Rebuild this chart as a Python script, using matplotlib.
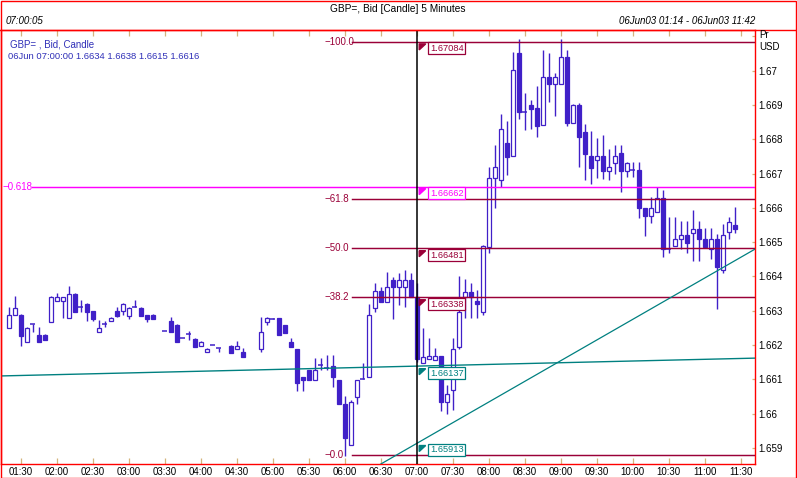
import numpy as np
import matplotlib
matplotlib.use("Agg")
import matplotlib.pyplot as plt
from matplotlib.patches import Rectangle, Polygon
from matplotlib.lines import Line2D

plt.rcParams["font.family"] = ["Liberation Sans", "DejaVu Sans"]

# 5-minute GBP= bid candles, first one at 01:20 (minutes since midnight), NaN = no print
START_MIN = 80
STEP_MIN = 5
nan = np.nan

opens = [
    1.66249, 1.66287, 1.66288, 1.66208, 1.66261, 1.66228, 1.66228, 1.66268, 1.66328, 1.66328,
    1.66278, 1.66349, 1.66310, 1.66320, 1.66298, 1.66237, 1.66262, 1.66269, 1.66298, 1.66298,
    1.66286, 1.66310, 1.66307, 1.66287, 1.66287, nan, 1.66240, 1.66269, 1.66259, 1.66220,
    1.66233, 1.66218, 1.66196, 1.66179, 1.66199, 1.66191, nan, 1.66197, 1.66188, 1.66180,
    nan, nan, 1.66188, 1.66268, 1.66275, 1.66280, 1.66259, 1.66208, 1.66189, 1.66108,
    1.66127, 1.66097, 1.66141, 1.66133, 1.66139, 1.66098, 1.66028, 1.65909, 1.66048, 1.66101,
    1.66106, 1.66307, 1.66358, 1.66327, 1.66390, 1.66368, 1.66368, 1.66390, 1.66340, 1.66147,
    1.66158, 1.66156, 1.66168, 1.66035, 1.66069, 1.66195, 1.66341, 1.66356, 1.66329, 1.66297,
    1.66487, 1.66688, 1.66680, 1.66788, 1.66750, 1.67052, 1.66880, 1.66900, 1.66891, 1.66841,
    1.66981, 1.66960, 1.66960, 1.67039, 1.66849, 1.66899, 1.66820, 1.66751, 1.66739, 1.66751,
    1.66709, 1.66730, 1.66761, 1.66709, 1.66711, 1.66711, 1.66599, 1.66577, 1.66589, 1.66628,
    1.66479, 1.66489, 1.66508, 1.66521, 1.66528, 1.66538, 1.66508, 1.66479, 1.66508, 1.66419,
    1.66529, 1.66550,
]
highs = [
    1.66310, 1.66343, 1.66291, 1.66252, 1.66261, 1.66252, 1.66232, 1.66343, 1.66351, 1.66339,
    1.66372, 1.66351, 1.66331, 1.66322, 1.66300, 1.66273, 1.66271, 1.66282, 1.66312, 1.66322,
    1.66310, 1.66331, 1.66310, 1.66287, 1.66291, nan, 1.66240, 1.66282, 1.66261, 1.66220,
    1.66241, 1.66220, 1.66213, 1.66192, 1.66199, 1.66191, nan, 1.66200, 1.66212, 1.66192,
    nan, nan, 1.66282, 1.66283, 1.66278, 1.66280, 1.66259, 1.66220, 1.66189, 1.66108,
    1.66127, 1.66161, 1.66161, 1.66171, 1.66171, 1.66098, 1.66053, 1.66040, 1.66098, 1.66149,
    1.66319, 1.66382, 1.66370, 1.66412, 1.66398, 1.66409, 1.66419, 1.66409, 1.66380, 1.66251,
    1.66220, 1.66191, 1.66168, 1.66085, 1.66220, 1.66400, 1.66392, 1.66380, 1.66361, 1.66492,
    1.66720, 1.66783, 1.66874, 1.66853, 1.67054, 1.67092, 1.66936, 1.66915, 1.66956, 1.67060,
    1.67051, 1.66992, 1.67092, 1.67060, 1.66903, 1.66905, 1.66845, 1.66824, 1.66803, 1.66813,
    1.66772, 1.66783, 1.66783, 1.66735, 1.66735, 1.66735, 1.66599, 1.66631, 1.66662, 1.66652,
    1.66574, 1.66574, 1.66563, 1.66563, 1.66594, 1.66563, 1.66540, 1.66540, 1.66524, 1.66553,
    1.66574, 1.66604,
]
lows = [
    1.66249, 1.66287, 1.66198, 1.66208, 1.66239, 1.66208, 1.66216, 1.66268, 1.66328, 1.66280,
    1.66278, 1.66297, 1.66297, 1.66271, 1.66271, 1.66237, 1.66252, 1.66269, 1.66281, 1.66288,
    1.66277, 1.66310, 1.66286, 1.66268, 1.66277, nan, 1.66240, 1.66237, 1.66208, 1.66220,
    1.66215, 1.66195, 1.66196, 1.66179, 1.66199, 1.66179, nan, 1.66178, 1.66188, 1.66166,
    nan, nan, 1.66179, 1.66259, 1.66275, 1.66228, 1.66236, 1.66195, 1.66067, 1.66067,
    1.66097, 1.66097, 1.66127, 1.66127, 1.66077, 1.66027, 1.65877, 1.65909, 1.66028, 1.66101,
    1.66106, 1.66297, 1.66327, 1.66327, 1.66276, 1.66317, 1.66312, 1.66339, 1.66150, 1.66147,
    1.66158, 1.66156, 1.66008, 1.66000, 1.66011, 1.66189, 1.66278, 1.66278, 1.66278, 1.66288,
    1.66468, 1.66599, 1.66662, 1.66696, 1.66750, 1.66859, 1.66827, 1.66829, 1.66808, 1.66841,
    1.66910, 1.66869, 1.66960, 1.66838, 1.66849, 1.66718, 1.66681, 1.66669, 1.66686, 1.66685,
    1.66681, 1.66699, 1.66647, 1.66689, 1.66689, 1.66570, 1.66519, 1.66557, 1.66589, 1.66458,
    1.66468, 1.66489, 1.66479, 1.66468, 1.66446, 1.66446, 1.66487, 1.66450, 1.66306, 1.66409,
    1.66508, 1.66528,
]
closes = [
    1.66288, 1.66307, 1.66227, 1.66249, 1.66261, 1.66208, 1.66216, 1.66339, 1.66339, 1.66339,
    1.66348, 1.66297, 1.66310, 1.66297, 1.66277, 1.66249, 1.66262, 1.66278, 1.66286, 1.66320,
    1.66307, 1.66310, 1.66286, 1.66277, 1.66277, nan, 1.66240, 1.66237, 1.66208, 1.66220,
    1.66233, 1.66195, 1.66209, 1.66189, 1.66199, 1.66191, nan, 1.66178, 1.66197, 1.66166,
    nan, nan, 1.66238, 1.66278, 1.66275, 1.66228, 1.66236, 1.66195, 1.66089, 1.66097,
    1.66097, 1.66127, 1.66141, 1.66133, 1.66106, 1.66027, 1.65928, 1.66035, 1.66098, 1.66101,
    1.66288, 1.66358, 1.66327, 1.66368, 1.66368, 1.66390, 1.66390, 1.66339, 1.66160, 1.66166,
    1.66168, 1.66168, 1.66035, 1.66056, 1.66188, 1.66297, 1.66356, 1.66341, 1.66319, 1.66489,
    1.66688, 1.66718, 1.66830, 1.66749, 1.67001, 1.66879, 1.66880, 1.66889, 1.66840, 1.66981,
    1.66960, 1.66981, 1.67039, 1.66848, 1.66899, 1.66808, 1.66758, 1.66717, 1.66751, 1.66709,
    1.66719, 1.66751, 1.66709, 1.66730, 1.66711, 1.66599, 1.66576, 1.66599, 1.66628, 1.66479,
    1.66479, 1.66508, 1.66521, 1.66499, 1.66538, 1.66508, 1.66487, 1.66508, 1.66429, 1.66521,
    1.66558, 1.66538,
]

tick_minutes = list(range(90, 691, 30))
tick_labels = ["%02d:%02d" % (m // 60, m % 60) for m in tick_minutes]
price_ticks = [1.659, 1.660, 1.661, 1.662, 1.663, 1.664, 1.665, 1.666, 1.667, 1.668, 1.669, 1.670]
price_labels = [("%.3f" % p).rstrip("0") for p in price_ticks]

# Fibonacci retracement drawn from the 06:00 low to the 09:00 high
fib_low, fib_high = 1.65880, 1.67085
fib_ratios = [1.0, 0.618, 0.5, 0.382, 0.0]
fib_names = ["100.0", "61.8", "50.0", "38.2", "0.0"]
fib_start_min = 366
magenta_level = 1.66662

# trend lines (time in minutes, price)
flat_times, flat_prices = [73, 702], [1.66110, 1.66162]
diag_times, diag_prices = [390, 702], [1.65853, 1.66480]

cursor_min = 420
box_values = [1.67084, 1.66662, 1.66481, 1.66338, 1.66137, 1.65913]

BLUE = "#4020c8"
MAROON = "#9a0038"
TEAL = "#008080"
MAGENTA = "#ff00ff"
TAN = "#d4b47c"
RED = "#ff0000"
box_colors = [MAROON, MAGENTA, MAROON, MAROON, TEAL, TEAL]

W, H = 797, 478
X_PX_PER_MIN = 1.2
Y_PX_PER_PRICE = 34300.0
FS = 7.0


def dx(px):
    return px / X_PX_PER_MIN


def dy(px):
    return px / Y_PX_PER_PRICE


fig = plt.figure(figsize=(W / 100, H / 100), dpi=100)
ax = fig.add_axes([1 / W, (H - 464) / H, 754 / W, 434 / H])
ax.set_xlim(73.6, 701.9)
ax.set_ylim(1.658533, 1.671187)

# candles
t = START_MIN + STEP_MIN * np.arange(len(opens))
o, hi, lo, c = map(np.asarray, (opens, highs, lows, closes))
ok = ~np.isnan(o)
ax.vlines(t[ok], lo[ok], hi[ok], color=BLUE, lw=1.0, zorder=2)
body_w = 3.1
for ti, oi, ci in zip(t[ok], o[ok], c[ok]):
    if abs(ci - oi) < 1.5e-5:
        ax.hlines(oi, ti - body_w / 2 - 0.4, ti + body_w / 2 + 0.4, color=BLUE, lw=1.1, zorder=3)
        continue
    face = "white" if ci > oi else BLUE
    ax.add_patch(Rectangle((ti - body_w / 2, min(oi, ci)), body_w, abs(ci - oi),
                           facecolor=face, edgecolor=BLUE, lw=0.9, zorder=3))

# fibonacci levels
for r, name in zip(fib_ratios, fib_names):
    lvl = fib_low + r * (fib_high - fib_low)
    ax.plot([fib_start_min, 702], [lvl, lvl], color=MAROON, lw=1.05, zorder=4)
    ax.text(fib_start_min - dx(27), lvl, "\u2212" + name, color=MAROON, fontsize=FS,
            va="center", ha="left", zorder=5)

ax.plot([99.4, 702], [magenta_level, magenta_level], color=MAGENTA, lw=1.05, zorder=4)
ax.text(73.6 + dx(1.5), magenta_level, "\u22120.618", color=MAGENTA, fontsize=FS,
        va="center", ha="left", zorder=5)

ax.plot(flat_times, flat_prices, color=TEAL, lw=1.0, zorder=4)
ax.plot(diag_times, diag_prices, color=TEAL, lw=0.9, zorder=4)

ax.axvline(cursor_min, color="black", lw=1.1, zorder=5)

# value boxes at the cursor
for v, col in zip(box_values, box_colors):
    left = cursor_min + dx(11.5)
    ax.add_patch(Rectangle((left, v - dy(12.5)), dx(37), dy(12.5), facecolor="white",
                           edgecolor=col, lw=0.9, zorder=6))
    ax.text(left + dx(2), v - dy(6.4), "%.5f" % v, color=col, fontsize=6.7,
            va="center", ha="left", zorder=7)
    ax.add_patch(Polygon([(cursor_min + dx(2.5), v - dy(2)), (cursor_min + dx(9), v - dy(2)),
                          (cursor_min + dx(2.5), v - dy(8))], closed=True, color=col, zorder=6))

# axes styling
for s in ax.spines.values():
    s.set_color(RED)
    s.set_linewidth(1.0)
ax.set_xticks(tick_minutes)
ax.set_xticklabels(tick_labels)
ax.set_yticks(price_ticks + [1.671])
ax.set_yticklabels(price_labels + [""])
ax.yaxis.tick_right()
ax.tick_params(axis="x", which="both", top=True, bottom=True, direction="in", length=4.2,
               width=0.9, color=TAN, labelsize=FS, pad=2)
ax.tick_params(axis="y", which="both", right=True, left=False, direction="in", length=2.2,
               width=0.9, color=TAN, labelsize=FS, pad=2.5)

# header and frame
fig.add_artist(Line2D([0, 1], [1 - 30 / H, 1 - 30 / H], color=RED, lw=1.0))
fig.add_artist(Rectangle((0.5 / W, 0.5 / H), (W - 1.5) / W, (H - 1.5) / H, fill=False,
                         edgecolor=RED, lw=1.0, transform=fig.transFigure))


def ftext(px, py, s, **kw):
    fig.text(px / W, 1 - py / H, s, fontsize=kw.pop("fontsize", FS), va="center", **kw)


ftext(398, 8.5, "GBP=, Bid [Candle] 5 Minutes", ha="center", fontsize=7.3)
ftext(6, 20.5, "07:00:05", ha="left", style="italic")
ftext(755, 20.5, "06Jun03 01:14 - 06Jun03 11:42", ha="right", style="italic")
ftext(10, 44.5, "GBP= , Bid, Candle", ha="left", color="#3030b8")
ftext(8, 56.5, "06Jun 07:00:00 1.6634 1.6638 1.6615 1.6616", ha="left", color="#3030b8",
      fontsize=6.8)
ftext(759, 35, "Pr", ha="left")
ftext(759, 46.5, "USD", ha="left")

fig.savefig("out.png", dpi=100)
